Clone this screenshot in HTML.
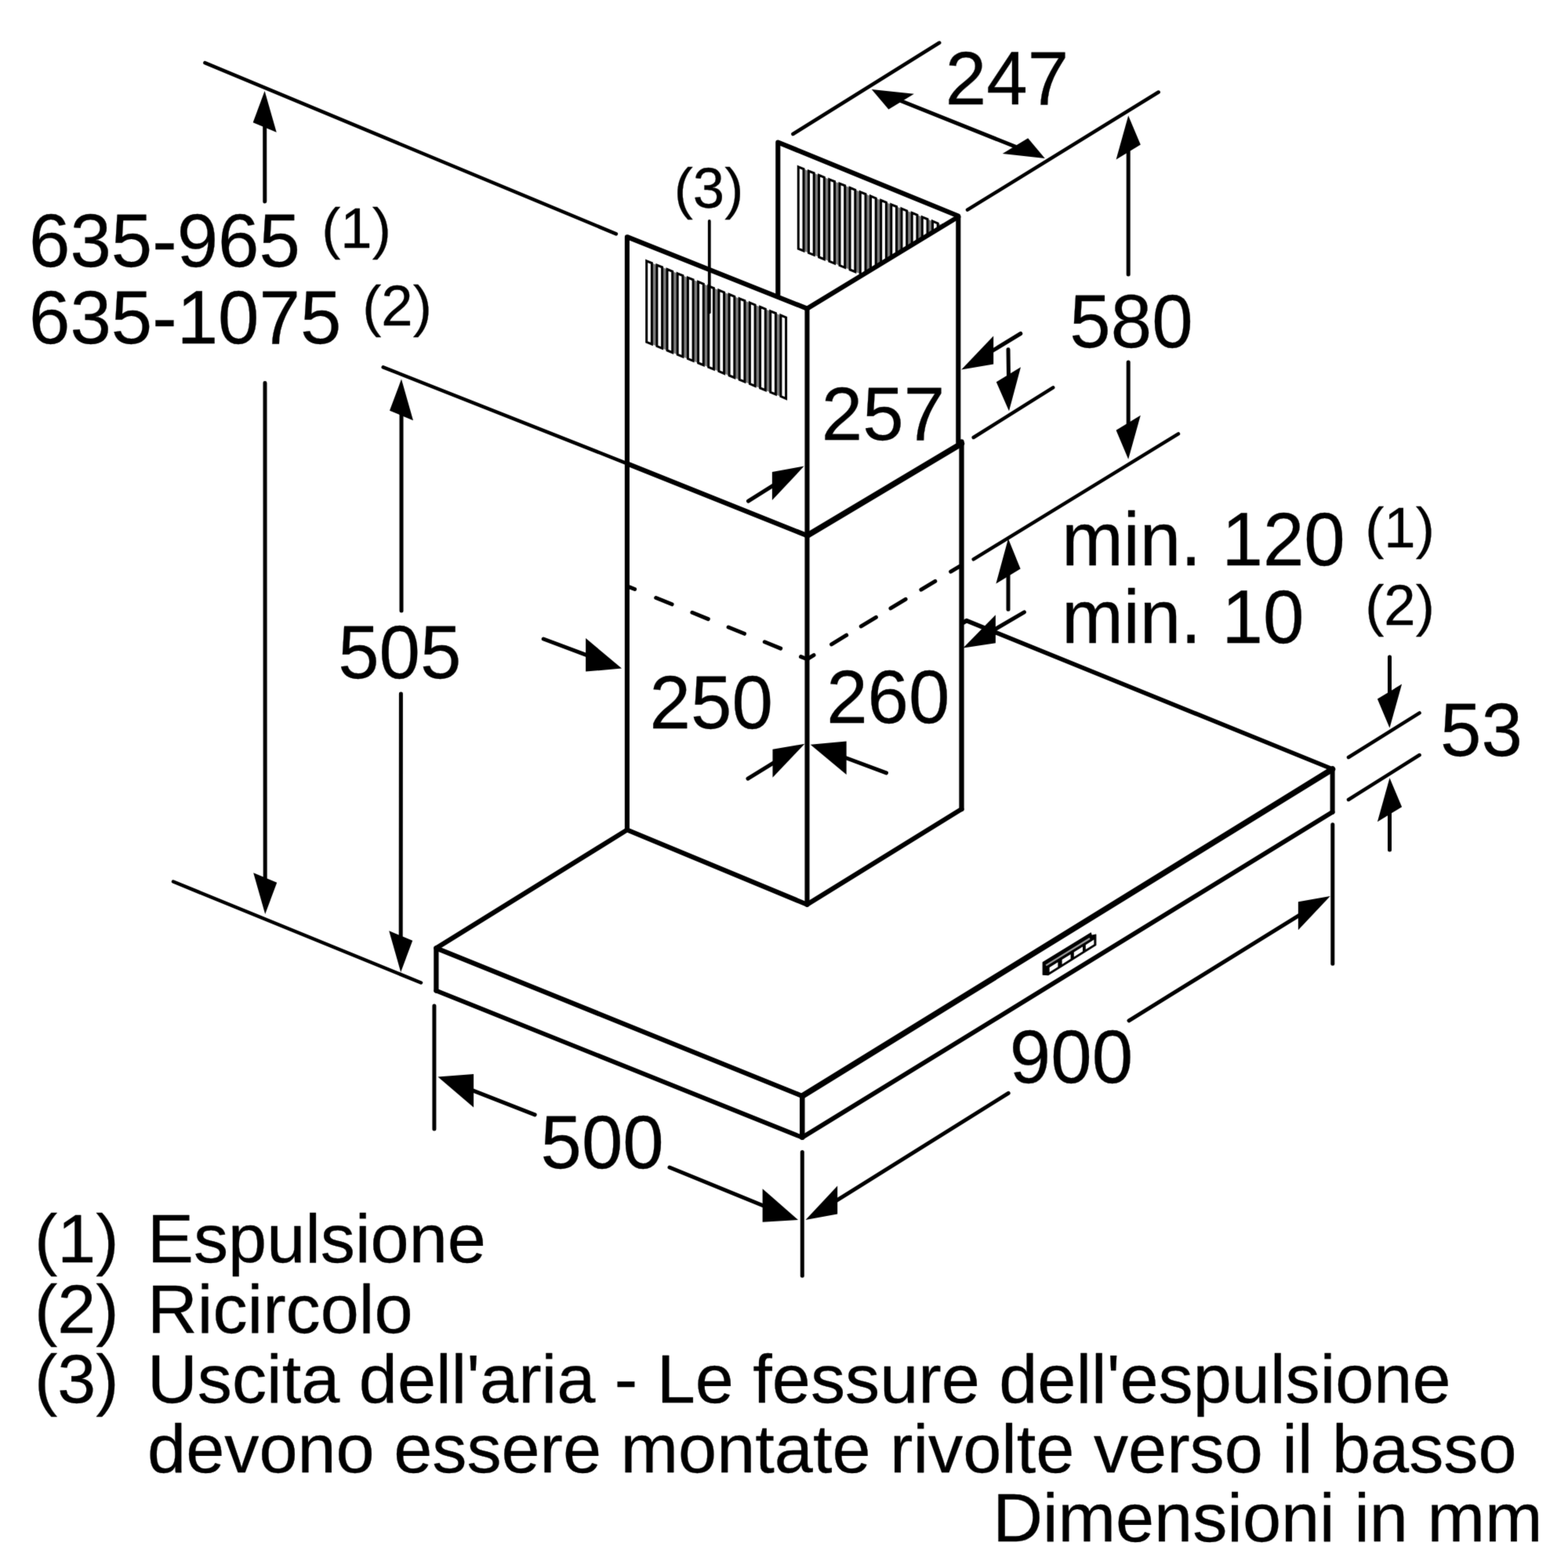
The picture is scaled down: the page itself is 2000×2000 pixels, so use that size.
<!DOCTYPE html>
<html lang="it">
<head>
<meta charset="utf-8">
<title>Dimensioni in mm</title>
<style>
html,body{margin:0;padding:0;background:#fff;}
body{width:2000px;height:2000px;overflow:hidden;}
svg{display:block;}
svg text{font-family:"Liberation Sans",sans-serif;fill:#000;stroke:#000;stroke-width:0.3px;stroke-linejoin:round;}
</style>
</head>
<body>
<svg width="2000" height="2000" viewBox="0 0 2000 2000" fill="none" stroke="#000">
<defs>
<filter id="soft" x="0" y="0" width="2000" height="2000" filterUnits="userSpaceOnUse" color-interpolation-filters="sRGB">
<feConvolveMatrix order="3" kernelMatrix="0.0113 0.0838 0.0113 0.0838 0.6193 0.0838 0.0113 0.0838 0.0113" edgeMode="duplicate" preserveAlpha="true"/>
</filter>
</defs>
<g filter="url(#soft)">
<rect x="0" y="0" width="2000" height="2000" fill="#fff" stroke="none"/>
<line x1="261.4" y1="80.2" x2="785.9" y2="298.3" stroke-width="4.5" stroke-linecap="round"/>
<line x1="488.7" y1="468.4" x2="800.0" y2="591.3" stroke-width="4.5" stroke-linecap="round"/>
<line x1="221.0" y1="1124.5" x2="537.0" y2="1253.5" stroke-width="4.5" stroke-linecap="round"/>
<line x1="1011.4" y1="171.0" x2="1198.2" y2="54.5" stroke-width="4.5" stroke-linecap="round"/>
<line x1="1234.0" y1="267.6" x2="1477.7" y2="117.5" stroke-width="4.5" stroke-linecap="round"/>
<line x1="1241.7" y1="713.3" x2="1503.0" y2="553.4" stroke-width="4.5" stroke-linecap="round"/>
<line x1="1241.7" y1="558.0" x2="1343.2" y2="494.3" stroke-width="4.5" stroke-linecap="round"/>
<line x1="1720.0" y1="966.0" x2="1810.6" y2="909.4" stroke-width="4.5" stroke-linecap="round"/>
<line x1="1720.0" y1="1020.0" x2="1810.6" y2="963.0" stroke-width="4.5" stroke-linecap="round"/>
<line x1="553.9" y1="1283.0" x2="553.9" y2="1440.0" stroke-width="5.0" stroke-linecap="round"/>
<line x1="1023.3" y1="1469.5" x2="1023.3" y2="1627.3" stroke-width="5.0" stroke-linecap="round"/>
<line x1="1699.8" y1="1051.8" x2="1699.8" y2="1229.3" stroke-width="5.0" stroke-linecap="round"/>
<polyline points="799.9,1058.5 799.9,302.2 1029.5,393.6" fill="none" stroke-width="6.1" stroke-linejoin="round" stroke-linecap="round"/>
<line x1="1029.5" y1="393.6" x2="1029.5" y2="1153.7" stroke-width="6.1" stroke-linecap="round"/>
<polyline points="992.3,376.0 992.3,181.5 1222.3,275.5 1222.3,564.5" fill="none" stroke-width="6.1" stroke-linejoin="round" stroke-linecap="round"/>
<line x1="800.0" y1="591.3" x2="1029.5" y2="683.2" stroke-width="6.1" stroke-linecap="round"/>
<line x1="1029.5" y1="683.2" x2="1226.5" y2="565.7" stroke-width="7.4" stroke-linecap="round"/>
<line x1="1226.5" y1="563.5" x2="1226.5" y2="1032.0" stroke-width="6.3" stroke-linecap="round"/>
<line x1="803.0" y1="748.9" x2="809.6" y2="751.5" stroke-width="5.0" stroke-linecap="round"/>
<line x1="836.7" y1="762.5" x2="857.1" y2="770.8" stroke-width="5.0" stroke-linecap="round"/>
<line x1="882.9" y1="781.3" x2="903.3" y2="789.6" stroke-width="5.0" stroke-linecap="round"/>
<line x1="929.1" y1="800.0" x2="949.5" y2="808.3" stroke-width="5.0" stroke-linecap="round"/>
<line x1="975.3" y1="818.8" x2="995.7" y2="827.1" stroke-width="5.0" stroke-linecap="round"/>
<line x1="1021.5" y1="837.6" x2="1027.5" y2="840.0" stroke-width="5.0" stroke-linecap="round"/>
<line x1="1031.5" y1="839.6" x2="1038.0" y2="835.6" stroke-width="5.0" stroke-linecap="round"/>
<line x1="1060.6" y1="821.9" x2="1079.7" y2="810.2" stroke-width="5.0" stroke-linecap="round"/>
<line x1="1098.3" y1="798.9" x2="1117.4" y2="787.3" stroke-width="5.0" stroke-linecap="round"/>
<line x1="1136.0" y1="775.9" x2="1155.1" y2="764.3" stroke-width="5.0" stroke-linecap="round"/>
<line x1="1174.9" y1="752.2" x2="1192.8" y2="741.3" stroke-width="5.0" stroke-linecap="round"/>
<line x1="1212.7" y1="729.2" x2="1224.0" y2="722.3" stroke-width="5.0" stroke-linecap="round"/>
<polyline points="799.9,1058.5 556.4,1209.3 1023.3,1398.0" fill="none" stroke-width="6.1" stroke-linejoin="round" stroke-linecap="round"/>
<line x1="1023.3" y1="1398.0" x2="1699.6" y2="981.0" stroke-width="7.4" stroke-linecap="round"/>
<line x1="556.4" y1="1209.3" x2="556.4" y2="1263.6" stroke-width="6.3" stroke-linecap="round"/>
<line x1="556.4" y1="1263.6" x2="1023.3" y2="1450.8" stroke-width="5.7" stroke-linecap="round"/>
<line x1="1023.3" y1="1450.8" x2="1699.6" y2="1035.8" stroke-width="5.8" stroke-linecap="round"/>
<line x1="1699.6" y1="1035.8" x2="1699.6" y2="981.0" stroke-width="6.0" stroke-linecap="round"/>
<line x1="1023.3" y1="1398.0" x2="1023.3" y2="1450.8" stroke-width="6.5" stroke-linecap="round"/>
<line x1="1029.5" y1="1153.7" x2="1226.5" y2="1032.0" stroke-width="6.1" stroke-linecap="round"/>
<line x1="799.9" y1="1058.5" x2="1029.5" y2="1153.7" stroke-width="6.1" stroke-linecap="round"/>
<polyline points="1229.2,793.8 1232.8,791.6 1699.6,981.0" fill="none" stroke-width="5.6" stroke-linejoin="round" stroke-linecap="round"/>
<polygon points="1330.2,1227.6 1391.4,1190.0 1392.3,1193.3 1397.8,1192.0 1397.8,1205.6 1337.2,1243.6 1330.2,1243.2" fill="#000" stroke-width="1.2" stroke-linejoin="round" stroke-linecap="round"/>
<line x1="1334.2" y1="1231.4" x2="1390.0" y2="1197.0" stroke="#9a9a9a" stroke-width="2.2"/>
<polygon points="1338.6,1234.1 1349.4,1227.3 1349.4,1233.2 1338.6,1240.0" fill="#fff" stroke="none"/>
<polygon points="1354.6,1224.1 1365.6,1217.2 1365.6,1223.1 1354.6,1230.0" fill="#fff" stroke="none"/>
<polygon points="1369.8,1214.6 1381.0,1207.6 1381.0,1213.5 1369.8,1220.5" fill="#fff" stroke="none"/>
<polygon points="1384.8,1205.2 1395.4,1198.6 1395.4,1204.5 1384.8,1211.1" fill="#fff" stroke="none"/>
<g>
<polygon points="824.7,332.8 1002.6,404.9 1002.6,508.4 824.7,436.3" fill="#7c7c7c" stroke="none"/>
<polygon points="824.7,332.8 831.4,335.5 831.4,439.0 824.7,436.3" fill="#fff" stroke-width="3.0" stroke-linejoin="miter"/>
<polygon points="837.9,338.1 844.6,340.8 844.6,444.3 837.9,441.6" fill="#fff" stroke-width="3.0" stroke-linejoin="miter"/>
<polygon points="851.0,343.5 857.7,346.2 857.7,449.7 851.0,447.0" fill="#fff" stroke-width="3.0" stroke-linejoin="miter"/>
<polygon points="864.2,348.8 870.9,351.5 870.9,455.0 864.2,452.3" fill="#fff" stroke-width="3.0" stroke-linejoin="miter"/>
<polygon points="877.4,354.1 884.1,356.8 884.1,460.3 877.4,457.6" fill="#fff" stroke-width="3.0" stroke-linejoin="miter"/>
<polygon points="890.6,359.5 897.3,362.2 897.3,465.7 890.6,463.0" fill="#fff" stroke-width="3.0" stroke-linejoin="miter"/>
<polygon points="903.7,364.8 910.4,367.5 910.4,471.0 903.7,468.3" fill="#fff" stroke-width="3.0" stroke-linejoin="miter"/>
<polygon points="916.9,370.1 923.6,372.9 923.6,476.4 916.9,473.6" fill="#fff" stroke-width="3.0" stroke-linejoin="miter"/>
<polygon points="930.1,375.5 936.8,378.2 936.8,481.7 930.1,479.0" fill="#fff" stroke-width="3.0" stroke-linejoin="miter"/>
<polygon points="943.2,380.8 949.9,383.5 949.9,487.0 943.2,484.3" fill="#fff" stroke-width="3.0" stroke-linejoin="miter"/>
<polygon points="956.4,386.1 963.1,388.9 963.1,492.4 956.4,489.6" fill="#fff" stroke-width="3.0" stroke-linejoin="miter"/>
<polygon points="969.6,391.5 976.3,394.2 976.3,497.7 969.6,495.0" fill="#fff" stroke-width="3.0" stroke-linejoin="miter"/>
<polygon points="982.7,396.8 989.4,399.5 989.4,503.0 982.7,500.3" fill="#fff" stroke-width="3.0" stroke-linejoin="miter"/>
<polygon points="995.9,402.1 1002.6,404.9 1002.6,508.4 995.9,505.6" fill="#fff" stroke-width="3.0" stroke-linejoin="miter"/>
</g>
<clipPath id="c2"><polygon points="990,180 1222.3,274 1029.5,393.6 990,393.6"/></clipPath>
<g clip-path="url(#c2)">
<polygon points="1018.3,212.8 1209.4,290.2 1209.4,394.7 1018.3,317.3" fill="#7c7c7c" stroke="none"/>
<polygon points="1018.3,212.8 1025.0,215.5 1025.0,320.0 1018.3,317.3" fill="#fff" stroke-width="3.0" stroke-linejoin="miter"/>
<polygon points="1031.5,218.1 1038.2,220.8 1038.2,325.3 1031.5,322.6" fill="#fff" stroke-width="3.0" stroke-linejoin="miter"/>
<polygon points="1044.6,223.5 1051.3,226.2 1051.3,330.7 1044.6,328.0" fill="#fff" stroke-width="3.0" stroke-linejoin="miter"/>
<polygon points="1057.8,228.8 1064.5,231.5 1064.5,336.0 1057.8,333.3" fill="#fff" stroke-width="3.0" stroke-linejoin="miter"/>
<polygon points="1071.0,234.1 1077.7,236.8 1077.7,341.3 1071.0,338.6" fill="#fff" stroke-width="3.0" stroke-linejoin="miter"/>
<polygon points="1084.1,239.5 1090.8,242.2 1090.8,346.7 1084.1,344.0" fill="#fff" stroke-width="3.0" stroke-linejoin="miter"/>
<polygon points="1097.3,244.8 1104.0,247.5 1104.0,352.0 1097.3,349.3" fill="#fff" stroke-width="3.0" stroke-linejoin="miter"/>
<polygon points="1110.5,250.1 1117.2,252.9 1117.2,357.4 1110.5,354.6" fill="#fff" stroke-width="3.0" stroke-linejoin="miter"/>
<polygon points="1123.7,255.5 1130.4,258.2 1130.4,362.7 1123.7,360.0" fill="#fff" stroke-width="3.0" stroke-linejoin="miter"/>
<polygon points="1136.8,260.8 1143.5,263.5 1143.5,368.0 1136.8,365.3" fill="#fff" stroke-width="3.0" stroke-linejoin="miter"/>
<polygon points="1150.0,266.1 1156.7,268.9 1156.7,373.4 1150.0,370.6" fill="#fff" stroke-width="3.0" stroke-linejoin="miter"/>
<polygon points="1163.2,271.5 1169.9,274.2 1169.9,378.7 1163.2,376.0" fill="#fff" stroke-width="3.0" stroke-linejoin="miter"/>
<polygon points="1176.3,276.8 1183.0,279.5 1183.0,384.0 1176.3,381.3" fill="#fff" stroke-width="3.0" stroke-linejoin="miter"/>
<polygon points="1189.5,282.1 1196.2,284.9 1196.2,389.4 1189.5,386.6" fill="#fff" stroke-width="3.0" stroke-linejoin="miter"/>
<polygon points="1202.7,287.5 1209.4,290.2 1209.4,394.7 1202.7,392.0" fill="#fff" stroke-width="3.0" stroke-linejoin="miter"/>
</g>
<line x1="1222.3" y1="276.5" x2="1029.5" y2="393.6" stroke-width="6.1" stroke-linecap="round"/>
<line x1="904.8" y1="282.0" x2="904.8" y2="398.4" stroke-width="3.8" stroke-linecap="round"/>
<polygon points="337.6,116.0 352.7,168.8 322.7,156.2" fill="#000" stroke="none"/>
<line x1="337.8" y1="257.0" x2="337.7" y2="158.5" stroke-width="5.0" stroke-linecap="round"/>
<polygon points="338.2,1166.0 353.2,1125.8 323.2,1113.2" fill="#000" stroke="none"/>
<line x1="338.0" y1="488.5" x2="338.2" y2="1123.5" stroke-width="5.0" stroke-linecap="round"/>
<polygon points="512.0,483.5 527.0,536.3 497.0,523.7" fill="#000" stroke="none"/>
<line x1="512.0" y1="779.0" x2="512.0" y2="526.0" stroke-width="5.0" stroke-linecap="round"/>
<polygon points="511.2,1240.0 526.2,1199.8 496.2,1187.2" fill="#000" stroke="none"/>
<line x1="511.4" y1="885.0" x2="511.2" y2="1197.5" stroke-width="5.0" stroke-linecap="round"/>
<line x1="1140.0" y1="125.0" x2="1305.0" y2="191.0" stroke-width="5.0" stroke-linecap="round"/>
<polygon points="1111.8,113.9 1165.9,119.8 1133.4,139.6" fill="#000" stroke="none"/>
<polygon points="1332.8,201.9 1311.2,176.2 1278.7,196.0" fill="#000" stroke="none"/>
<polygon points="1439.2,147.5 1454.8,184.5 1423.6,203.5" fill="#000" stroke="none"/>
<line x1="1439.2" y1="350.0" x2="1439.2" y2="190.0" stroke-width="5.0" stroke-linecap="round"/>
<polygon points="1439.2,585.8 1454.8,529.8 1423.6,548.8" fill="#000" stroke="none"/>
<line x1="1439.2" y1="462.0" x2="1439.2" y2="543.3" stroke-width="5.0" stroke-linecap="round"/>
<polygon points="1287.0,524.3 1302.0,468.3 1270.8,487.3" fill="#000" stroke="none"/>
<line x1="1286.0" y1="445.8" x2="1286.5" y2="481.8" stroke-width="5.0" stroke-linecap="round"/>
<polygon points="1226.2,471.6 1267.2,464.6 1267.2,428.6" fill="#000" stroke="none"/>
<line x1="1301.8" y1="425.5" x2="1263.8" y2="448.7" stroke-width="5.0" stroke-linecap="round"/>
<polygon points="1025.6,594.6 984.9,638.1 984.9,602.1" fill="#000" stroke="none"/>
<line x1="954.5" y1="639.1" x2="988.3" y2="617.9" stroke-width="5.0" stroke-linecap="round"/>
<polygon points="793.0,852.6 747.1,856.6 747.1,814.1" fill="#000" stroke="none"/>
<line x1="693.2" y1="815.0" x2="750.9" y2="836.7" stroke-width="5.0" stroke-linecap="round"/>
<polygon points="1026.4,948.7 985.5,991.8 985.5,955.8" fill="#000" stroke="none"/>
<line x1="954.0" y1="993.2" x2="988.9" y2="971.7" stroke-width="5.0" stroke-linecap="round"/>
<polygon points="1033.7,949.7 1079.6,988.1 1079.6,945.6" fill="#000" stroke="none"/>
<line x1="1130.5" y1="985.9" x2="1075.8" y2="965.5" stroke-width="5.0" stroke-linecap="round"/>
<polygon points="1286.0,687.0 1301.6,725.5 1270.4,744.5" fill="#000" stroke="none"/>
<line x1="1286.0" y1="777.2" x2="1286.0" y2="731.0" stroke-width="5.0" stroke-linecap="round"/>
<polygon points="1228.5,826.6 1269.9,820.3 1269.9,784.3" fill="#000" stroke="none"/>
<line x1="1306.4" y1="780.8" x2="1266.4" y2="804.3" stroke-width="5.0" stroke-linecap="round"/>
<polygon points="1772.5,928.6 1788.1,872.6 1756.9,891.6" fill="#000" stroke="none"/>
<line x1="1772.5" y1="838.0" x2="1772.5" y2="886.1" stroke-width="5.0" stroke-linecap="round"/>
<polygon points="1772.5,992.3 1788.1,1029.3 1756.9,1048.3" fill="#000" stroke="none"/>
<line x1="1772.5" y1="1083.9" x2="1772.5" y2="1034.8" stroke-width="5.0" stroke-linecap="round"/>
<polygon points="558.5,1373.5 604.1,1412.6 604.1,1370.1" fill="#000" stroke="none"/>
<line x1="682.2" y1="1421.8" x2="600.4" y2="1389.9" stroke-width="5.0" stroke-linecap="round"/>
<polygon points="1018.0,1556.0 972.6,1558.7 972.6,1516.2" fill="#000" stroke="none"/>
<line x1="854.0" y1="1489.0" x2="976.3" y2="1539.0" stroke-width="5.0" stroke-linecap="round"/>
<polygon points="1696.7,1142.9 1655.9,1186.2 1655.9,1150.2" fill="#000" stroke="none"/>
<line x1="1440.0" y1="1301.8" x2="1659.3" y2="1166.1" stroke-width="5.0" stroke-linecap="round"/>
<polygon points="1027.5,1556.0 1068.2,1548.6 1068.2,1512.6" fill="#000" stroke="none"/>
<line x1="1286.2" y1="1394.4" x2="1064.8" y2="1532.7" stroke-width="5.0" stroke-linecap="round"/>
<text transform="translate(37.0 340.0) scale(0.9770 1)" font-size="96.5" text-anchor="start" stroke-width="0.1">635-965</text>
<text x="410.2" y="315.6" font-size="72.5" text-anchor="start" stroke-width="0.25">(1)</text>
<text transform="translate(37.0 438.0) scale(0.9770 1)" font-size="96.5" text-anchor="start" stroke-width="0.1">635-1075</text>
<text x="462.2" y="415.0" font-size="72.5" text-anchor="start" stroke-width="0.25">(2)</text>
<text x="904.0" y="264.8" font-size="72.5" text-anchor="middle" stroke-width="0.25">(3)</text>
<text transform="translate(1284.5 132.5) scale(0.9770 1)" font-size="96.5" text-anchor="middle" stroke-width="0.1">247</text>
<text transform="translate(1443.0 443.0) scale(0.9770 1)" font-size="96.5" text-anchor="middle" stroke-width="0.1">580</text>
<text transform="translate(1126.5 561.0) scale(0.9770 1)" font-size="96.5" text-anchor="middle" stroke-width="0.1">257</text>
<text transform="translate(509.8 864.8) scale(0.9770 1)" font-size="96.5" text-anchor="middle" stroke-width="0.1">505</text>
<text transform="translate(907.2 929.0) scale(0.9770 1)" font-size="96.5" text-anchor="middle" stroke-width="0.1">250</text>
<text transform="translate(1132.8 921.8) scale(0.9770 1)" font-size="96.5" text-anchor="middle" stroke-width="0.1">260</text>
<text transform="translate(1354.2 720.8) scale(0.9770 1)" font-size="96.5" text-anchor="start" stroke-width="0.1">min. 120</text>
<text x="1741.2" y="697.5" font-size="72.5" text-anchor="start" stroke-width="0.25">(1)</text>
<text transform="translate(1354.2 819.8) scale(0.9770 1)" font-size="96.5" text-anchor="start" stroke-width="0.1">min. 10</text>
<text x="1741.2" y="797.0" font-size="72.5" text-anchor="start" stroke-width="0.25">(2)</text>
<text transform="translate(1889.5 964.0) scale(0.9770 1)" font-size="96.5" text-anchor="middle" stroke-width="0.1">53</text>
<text transform="translate(768.1 1489.5) scale(0.9770 1)" font-size="96.5" text-anchor="middle" stroke-width="0.1">500</text>
<text transform="translate(1366.5 1381.0) scale(0.9770 1)" font-size="96.5" text-anchor="middle" stroke-width="0.1">900</text>
<text x="44.0" y="1609.7" font-size="88" text-anchor="start">(1)</text>
<text transform="translate(188.1 1609.7) scale(1.0030 1)" font-size="88" text-anchor="start">Espulsione</text>
<text x="44.0" y="1700.3" font-size="88" text-anchor="start">(2)</text>
<text transform="translate(188.1 1700.3) scale(1.0030 1)" font-size="88" text-anchor="start">Ricircolo</text>
<text x="44.0" y="1789.2" font-size="88" text-anchor="start">(3)</text>
<text transform="translate(188.1 1789.2) scale(1.0030 1)" font-size="88" text-anchor="start">Uscita dell'aria - Le fessure dell'espulsione</text>
<text transform="translate(188.1 1878.4) scale(1.0030 1)" font-size="88" text-anchor="start">devono essere montate rivolte verso il basso</text>
<text transform="translate(1967.5 1965.5) scale(1.0030 1)" font-size="88" text-anchor="end">Dimensioni in mm</text>
</g>
</svg>
</body>
</html>
